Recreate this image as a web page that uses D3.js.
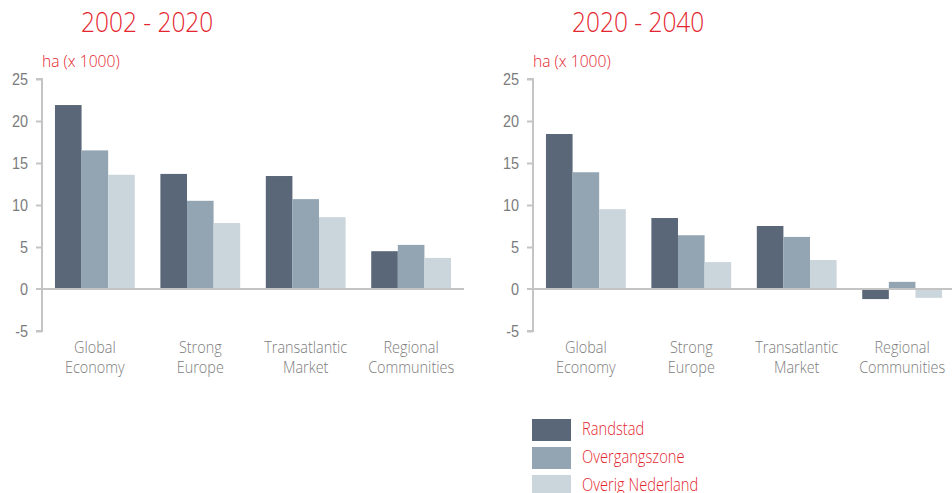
<!DOCTYPE html>
<html>
<head>
<meta charset="utf-8">
<script src="https://cdn.jsdelivr.net/npm/d3@7"></script>
<style>
  body { margin: 0; background: #fff; }
  svg { display: block; font-family: "Open Sans", sans-serif; font-weight: 300; }
</style>
</head>
<body>
<svg id="chart" width="952" height="493"></svg>
<script>
// data, ha (x 1000)
var scenarios = ["Global Economy", "Strong Europe", "Transatlantic Market", "Regional Communities"];
var zones = ["Randstad", "Overgangszone", "Overig Nederland"];
var periods = ["2002 - 2020", "2020 - 2040"];
var yTicks = [-5, 0, 5, 10, 15, 20, 25];

var randstad1 = [21.9, 13.7, 13.45, 4.5];
var overgang1 = [16.5, 10.5, 10.7, 5.25];
var overig1   = [13.6, 7.85, 8.55, 3.7];

var randstad2 = [18.45, 8.45, 7.5, -1.2];
var overgang2 = [13.9, 6.4, 6.2, 0.85];
var overig2   = [9.5, 3.2, 3.45, -1.05];

var colors = ["#5a6778", "#93a5b3", "#cbd5dc"];
var red = "#e4262f";
var grey = "#7c7c7c";
var squeeze = 0.85; // the original type is a condensed face

var svg = d3.select("#chart");

var y = d3.scaleLinear().domain([-5, 25]).range([331, 79]);

function label(parent, x, yy, size, fill, str, sx) {
    return parent.append("text")
        .attr("transform", "translate(" + x + "," + yy + ") scale(" + (sx || squeeze) + ",1)")
        .attr("fill", fill).attr("font-size", size).text(str);
}

function panel(title, series, left) {
    var g = svg.append("g");
    var x = d3.scaleBand().domain(scenarios)
        .range([left, left + 422]).paddingInner(0.243).paddingOuter(0.123);
    var xz = d3.scaleBand().domain(zones).range([0, x.bandwidth()]);

    label(g, left + 39, 32, 27.5, red, title, 0.89);
    label(g, left, 67, 16.5, red, "ha (x 1000)", 0.95);

    // y axis
    var ax = g.append("g").attr("transform", "translate(" + left + ",0)")
        .call(d3.axisLeft(y).tickValues(yTicks).tickSize(6).tickPadding(7)
            .tickFormat(function (d) { return String(d); }));
    ax.select(".domain").attr("stroke", "#c4c4c4").attr("stroke-width", 2).attr("d", "M-6," + y(25) + "H0V" + y(-5) + "H-6");
    ax.selectAll(".tick line").attr("stroke", "#c4c4c4").attr("stroke-width", 2);
    ax.selectAll(".tick text").attr("fill", grey).attr("font-size", 17).attr("font-family", null)
        .attr("x", -14 / squeeze).attr("transform", "scale(" + squeeze + ",1)");
    ax.selectAll(".tick").filter(function (d) { return d === 0; }).select("line").remove();

    // bars
    scenarios.forEach(function (s, i) {
        var grp = g.append("g").attr("transform", "translate(" + x(s) + ",0)");
        grp.selectAll("rect").data(zones).join("rect")
            .attr("x", function (z) { return xz(z); })
            .attr("width", xz.bandwidth())
            .attr("y", function (z, j) { return y(Math.max(0, series[j][i])); })
            .attr("height", function (z, j) { return Math.abs(y(series[j][i]) - y(0)); })
            .attr("fill", function (z, j) { return colors[j]; });
    });

    // zero line
    g.append("line").attr("x1", left - 6).attr("x2", left + 422)
        .attr("y1", y(0)).attr("y2", y(0))
        .attr("stroke", "#c4c4c4").attr("stroke-width", 2);

    // category labels
    scenarios.forEach(function (s) {
        var t = g.append("text").attr("text-anchor", "middle")
            .attr("fill", grey).attr("font-size", 17)
            .attr("transform", "translate(" + (x(s) + x.bandwidth() / 2) + ",0) scale(" + squeeze + ",1)");
        s.split(" ").forEach(function (w, k) {
            t.append("tspan").attr("x", 0).attr("y", 353 + k * 20).text(w);
        });
    });
}

panel(periods[0], [randstad1, overgang1, overig1], 42);
panel(periods[1], [randstad2, overgang2, overig2], 533);

// legend
var lg = svg.append("g").attr("transform", "translate(532,419)");
zones.forEach(function (z, i) {
    lg.append("rect").attr("x", 0).attr("y", i * 28).attr("width", 39).attr("height", 22).attr("fill", colors[i]);
    label(lg, 50, i * 28 + 16, 17.5, red, z, 0.84);
});
</script>
</body>
</html>
